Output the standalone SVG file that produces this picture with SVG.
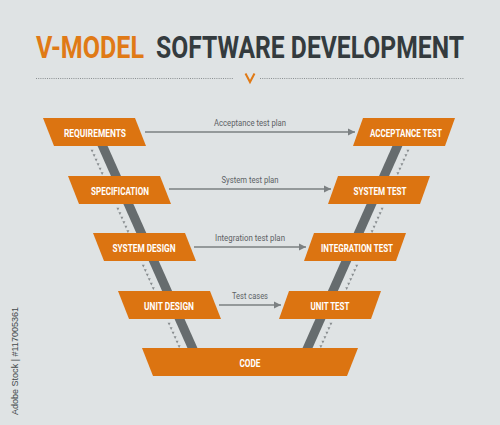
<svg xmlns="http://www.w3.org/2000/svg" xmlns:xlink="http://www.w3.org/1999/xlink" width="500" height="425" viewBox="0 0 500 425">
<defs>
<style>
.box{fill:#dc7411}
.bt{font-family:"Roboto","Liberation Sans",sans-serif;font-weight:bold;font-size:11.5px;fill:#ffffff;text-anchor:middle}
.lbl{font-family:"Roboto","Liberation Sans",sans-serif;font-size:8.5px;fill:#5d6264;text-anchor:middle}
.con{stroke:#7b8082;stroke-width:1.6;fill:none}
.bar{fill:#666c6e}
.tri{fill:#888d8f}
.ttl{font-family:"Roboto","Liberation Sans",sans-serif;font-weight:bold;font-size:31px}
</style>
<marker id="ah" markerWidth="8" markerHeight="8" refX="7" refY="4" orient="auto" markerUnits="userSpaceOnUse">
<path d="M0,0.5 L7,4 L0,7.5 z" fill="#7b8082"/>
</marker>
<g id="leftside">
<polygon class="bar" points="92.7,135 102.7,135 202.8,360 192.8,360"/>
<path class="tri" d="M90.6,149.8h3l-1.5,2.6z m2,4.5h3l-1.5,2.6z m2,4.5h3l-1.5,2.6z m2,4.5h3l-1.5,2.6z m2,4.5h3l-1.5,2.6z m2,4.5h3l-1.5,2.6z M116.4,207.8h3l-1.5,2.6z m2,4.5h3l-1.5,2.6z m2,4.5h3l-1.5,2.6z m2,4.5h3l-1.5,2.6z m2,4.5h3l-1.5,2.6z m2,4.5h3l-1.5,2.6z M141.8,264.8h3l-1.5,2.6z m2,4.5h3l-1.5,2.6z m2,4.5h3l-1.5,2.6z m2,4.5h3l-1.5,2.6z m2,4.5h3l-1.5,2.6z m2,4.5h3l-1.5,2.6z M167.6,322.8h3l-1.5,2.6z m2,4.5h3l-1.5,2.6z m2,4.5h3l-1.5,2.6z m2,4.5h3l-1.5,2.6z m2,4.5h3l-1.5,2.6z m2,4.5h3l-1.5,2.6z"/>
</g>
</defs>
<rect width="500" height="425" fill="#dfe3e4"/>

<g id="title">
<text class="ttl" transform="translate(36,58) scale(0.8,1)" x="0" y="0" fill="#e07a16" textLength="135" lengthAdjust="spacingAndGlyphs">V-MODEL</text>
<text class="ttl" transform="translate(156,58) scale(0.8,1)" x="0" y="0" fill="#343b3e" textLength="385" lengthAdjust="spacingAndGlyphs">SOFTWARE DEVELOPMENT</text>
<line x1="36" y1="78.5" x2="234" y2="78.5" stroke="#8a8f91" stroke-width="1" stroke-dasharray="1 1.2"/>
<line x1="260" y1="78.5" x2="464" y2="78.5" stroke="#8a8f91" stroke-width="1" stroke-dasharray="1 1.2"/>
<polyline points="245.5,73.5 250,82 254.5,73.5" fill="none" stroke="#e07a16" stroke-width="2"/>
</g>

<g id="bars">
<use xlink:href="#leftside"/>
<use xlink:href="#leftside" transform="translate(500,0) scale(-1,1)"/>
</g>

<g id="connectors">
<line class="con" x1="145" y1="132" x2="355" y2="132" marker-end="url(#ah)"/>
<text class="lbl" x="250" y="126" textLength="72" lengthAdjust="spacingAndGlyphs">Acceptance test plan</text>
<line class="con" x1="169" y1="189" x2="331" y2="189" marker-end="url(#ah)"/>
<text class="lbl" x="250" y="183" textLength="57" lengthAdjust="spacingAndGlyphs">System test plan</text>
<line class="con" x1="194" y1="247" x2="306" y2="247" marker-end="url(#ah)"/>
<text class="lbl" x="250" y="241" textLength="70" lengthAdjust="spacingAndGlyphs">Integration test plan</text>
<line class="con" x1="219" y1="305" x2="281" y2="305" marker-end="url(#ah)"/>
<text class="lbl" x="250" y="299" textLength="36" lengthAdjust="spacingAndGlyphs">Test cases</text>
</g>

<g id="requirements">
<polygon class="box" points="43,118 135,118 146,146 54,146"/>
<text class="bt" x="95" y="136.5" textLength="62" lengthAdjust="spacingAndGlyphs">REQUIREMENTS</text>
</g>
<g id="specification">
<polygon class="box" points="68,176 160,176 171,204 79,204"/>
<text class="bt" x="120" y="194.5" textLength="58" lengthAdjust="spacingAndGlyphs">SPECIFICATION</text>
</g>
<g id="system-design">
<polygon class="box" points="93,233 185,233 196,261 104,261"/>
<text class="bt" x="144" y="251.5" textLength="63" lengthAdjust="spacingAndGlyphs">SYSTEM DESIGN</text>
</g>
<g id="unit-design">
<polygon class="box" points="118,291 210,291 221,319 129,319"/>
<text class="bt" x="169" y="309.5" textLength="50" lengthAdjust="spacingAndGlyphs">UNIT DESIGN</text>
</g>
<g id="code">
<polygon class="box" points="142,348 358,348 347,376 153,376"/>
<text class="bt" x="250" y="366.5" textLength="21" lengthAdjust="spacingAndGlyphs">CODE</text>
</g>
<g id="acceptance-test">
<polygon class="box" points="363,118 455,118 445,146 353,146"/>
<text class="bt" x="406" y="136.5" textLength="72" lengthAdjust="spacingAndGlyphs">ACCEPTANCE TEST</text>
</g>
<g id="system-test">
<polygon class="box" points="338,176 430,176 420,204 328,204"/>
<text class="bt" x="380" y="194.5" textLength="53" lengthAdjust="spacingAndGlyphs">SYSTEM TEST</text>
</g>
<g id="integration-test">
<polygon class="box" points="314,233 406,233 396,261 304,261"/>
<text class="bt" x="357" y="251.5" textLength="72" lengthAdjust="spacingAndGlyphs">INTEGRATION TEST</text>
</g>
<g id="unit-test">
<polygon class="box" points="289,291 381,291 371,319 279,319"/>
<text class="bt" x="330" y="309.5" textLength="39" lengthAdjust="spacingAndGlyphs">UNIT TEST</text>
</g>

<text transform="translate(18,415) rotate(-90)" font-family="'Liberation Sans',sans-serif" font-size="8.5" fill="#444a4c" textLength="108" lengthAdjust="spacingAndGlyphs">Adobe Stock | #117005361</text>
</svg>
